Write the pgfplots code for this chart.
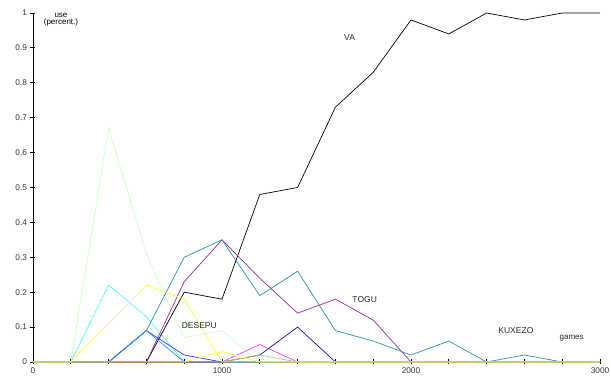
\documentclass[border=0pt]{standalone}
\usepackage{fontspec}
\setmainfont{Liberation Sans}
\usepackage{pgfplots}
\pgfplotsset{compat=1.18}
\usepackage{pgfplotstable}
\definecolor{cteal}{RGB}{40,150,150}
\definecolor{cpurple}{RGB}{150,40,160}
\definecolor{cnavy}{RGB}{20,20,150}
\definecolor{cblue}{RGB}{50,50,255}
\definecolor{cazure}{RGB}{30,150,240}
\definecolor{ccyan}{RGB}{90,245,245}
\definecolor{cyellow}{RGB}{255,255,60}
\definecolor{cpale}{RGB}{205,255,205}
\definecolor{cmag}{RGB}{255,50,255}
\definecolor{ckhaki}{RGB}{200,190,120}
\pgfplotstableread{
x    va    teal  purple navy blue azure cyan yellow ytwo pale mag  kh
0    0     0     0      0    0    0     0    0      0    0    0    0
200  0     0     0      0    0    0     0    0      0    0    0    0
400  0     0     0      0    0    0     0.22 0.11   0    0.67 0    0
600  0     0.09  0      0    0.09 0.09  0.13 0.22   0    0.31 0    0
800  0.2   0.30  0.23   0    0.02 0     0    0.18   0    0.07 0    0
1000 0.18  0.35  0.35   0    0    0     0    0      0.03 0.09 0    0
1200 0.48  0.19  0.24   0.02 0    0     0    0      0    0    0.05 0.02
1400 0.5   0.26  0.14   0.10 0    0     0    0      0    0    0    0
1600 0.73  0.09  0.18   0    0    0     0    0      0    0    0    0
1800 0.83  0.06  0.12   0    0    0     0    0      0    0    0    0
2000 0.98  0.02  0      0    0    0     0    0      0    0    0    0
2200 0.94  0.06  0      0    0    0     0    0      0    0    0    0
2400 1.0   0     0      0    0    0     0    0      0    0    0    0
2600 0.98  0.02  0      0    0    0     0    0      0    0    0    0
2800 1.0   0     0      0    0    0     0    0      0    0    0    0
3000 1.0   0     0      0    0    0     0    0      0    0    0    0
}\data
\begin{document}
\begin{tikzpicture}
\begin{axis}[name=ax,
  scale only axis, width=567pt, height=349pt,
  xmin=0, xmax=3000, ymin=0, ymax=1,
  axis lines*=left,
  axis line style={black, line width=0.9pt},
  xtick={0,1000,2000,3000},
  minor xtick={200,400,...,2800},
  ytick={0,0.1,...,1.0},
  yticklabels={0,0.1,0.2,0.3,0.4,0.5,0.6,0.7,0.8,0.9,1},
  /pgf/number format/set thousands separator={},
  tick align=center,
  major tick length=5pt, minor tick length=5pt,
  tick style={black, line width=0.8pt},
  every tick label/.append style={font=\fontsize{8.3}{9}\selectfont, text=black!80},
  /pgf/number format/assume math mode=true,
  clip=false,
  every axis plot/.append style={line width=0.7pt, no marks},
]
\addplot[cpale] table[y=pale]{\data};
\addplot[ccyan] table[y=cyan]{\data};
\addplot[black] table[y=va]{\data};
\addplot[cmag] table[y=mag]{\data};
\addplot[cnavy] table[y=navy]{\data};
\addplot[cpurple] table[y=purple]{\data};
\addplot[cteal] table[y=teal]{\data};
\addplot[cblue] table[y=blue]{\data};
\addplot[cazure] table[y=azure]{\data};
\addplot[ckhaki] table[y=kh]{\data};
\addplot[cyellow] table[y=yellow]{\data};
\addplot[cyellow] table[y=ytwo]{\data};
\node[font=\fontsize{8}{9}\selectfont, inner sep=0pt] at (axis cs:148,0.994) {use};
\node[font=\fontsize{8}{9}\selectfont, inner sep=0pt] at (axis cs:148,0.972) {(percent.)};
\node[font=\fontsize{8.5}{10}\selectfont, text=black!85] at (axis cs:1675,0.93) {VA};
\node[font=\fontsize{8.5}{10}\selectfont, text=black!85] at (axis cs:1755,0.18) {TOGU};
\node[font=\fontsize{8.5}{10}\selectfont, text=black!85] at (axis cs:880,0.104) {DESEPU};
\node[font=\fontsize{8.5}{10}\selectfont, text=black!85] at (axis cs:2555,0.09) {KUXEZO};
\node[font=\fontsize{8}{9}\selectfont, text=black!85] at (axis cs:2850,0.068) {games};
\end{axis}
\pgfresetboundingbox
\path ([xshift=-33pt,yshift=-17pt]ax.south west) rectangle ([xshift=11pt,yshift=13pt]ax.north east);
\end{tikzpicture}
\end{document}
